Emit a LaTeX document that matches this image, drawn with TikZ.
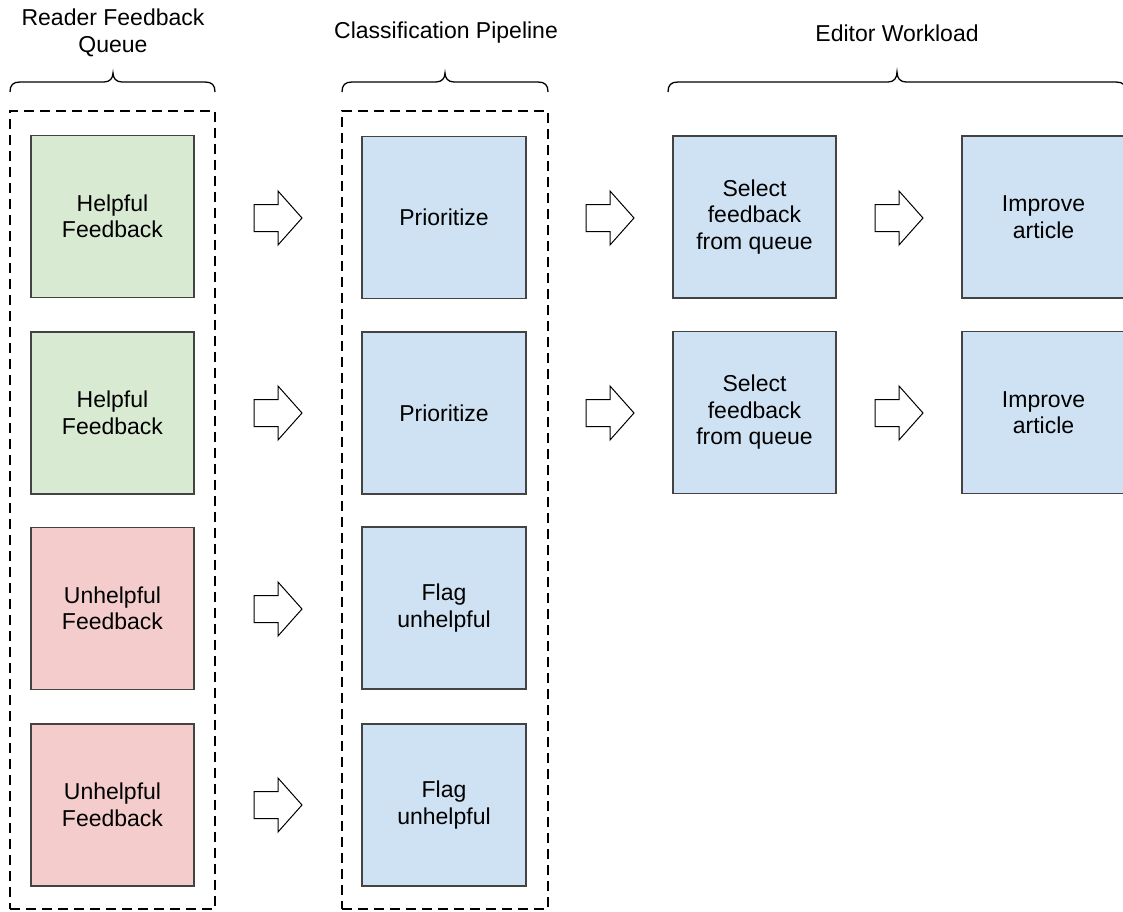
\documentclass[tikz,border=0pt]{standalone}
\usepackage{fontspec}
\setmainfont{Liberation Sans}
\definecolor{helpgreen}{HTML}{D9EAD3}
\definecolor{unhelpred}{HTML}{F4CCCC}
\definecolor{stepblue}{HTML}{CFE2F3}
\definecolor{boxline}{HTML}{434343}
\tikzset{
  card/.style={draw=boxline, line width=1.2pt, minimum width=163pt, minimum height=162pt, inner sep=0pt, align=center, font=\fontsize{23}{26.5}\selectfont},
  goodcard/.style={card, fill=helpgreen},
  badcard/.style={card, fill=unhelpred},
  bluecard/.style={card, fill=stepblue},
  container/.style={draw=black, line width=2.2pt, dash pattern=on 10pt off 6pt},
  title/.style={align=center, font=\fontsize{23}{26.5}\selectfont},
  bracelinestyle/.style={draw=black, line width=1.3pt},
  arrowline/.style={draw=black, line width=1pt, fill=white, line join=miter},
  pics/blockarrow/.style={code={
    \draw[arrowline] (-24,-13.5) -- (0,-13.5) -- (0,-27) -- (24,0) -- (0,27) -- (0,13.5) -- (-24,13.5) -- cycle;
  }}
}
\begin{document}
\begin{tikzpicture}[x=1pt,y=-1pt]
\useasboundingbox (0,0) rectangle (1123,911);
\fill[white] (0,0) rectangle (1123,911);

% titles
\node[title] (t1) at (113,33) {Reader Feedback\\Queue};
\node[title] (t2) at (446,33) {Classification Pipeline};
\node[title] (t3) at (897,33) {Editor Workload};

% braces
\draw[bracelinestyle] (10,92) .. controls (10,85) and (13,82) .. (20,82) -- (104,82) .. controls (110,82) and (113,78) .. (113,73) .. controls (113,78) and (116,82) .. (122,82) -- (205,82) .. controls (212,82) and (215,85) .. (215,92);
\draw[bracelinestyle] (342,92) .. controls (342,85) and (345,82) .. (352,82) -- (436,82) .. controls (442,82) and (445,78) .. (445,73) .. controls (445,78) and (448,82) .. (454,82) -- (538,82) .. controls (545,82) and (548,85) .. (548,92);
\draw[bracelinestyle] (668,92) .. controls (668,85) and (671,82) .. (678,82) -- (888,82) .. controls (894,82) and (897,78) .. (897,72) .. controls (897,78) and (900,82) .. (906,82) -- (1116,82) .. controls (1123,82) and (1126,85) .. (1126,92);

% containers
\node[container, minimum width=205pt, minimum height=798pt, inner sep=0pt] (queue) at (112.5,510) {};
\node[container, minimum width=206pt, minimum height=798pt, inner sep=0pt] (pipeline) at (445,510) {};

% column 1
\node[goodcard] (f1) at (112.5,216.5) {Helpful\\Feedback};
\node[goodcard] (f2) at (112.5,413) {Helpful\\Feedback};
\node[badcard] (f3) at (112.5,608.5) {Unhelpful\\Feedback};
\node[badcard] (f4) at (112.5,805) {Unhelpful\\Feedback};

% column 2
\node[bluecard, minimum width=164pt] (p1) at (444,217.5) {Prioritize};
\node[bluecard, minimum width=164pt] (p2) at (444,413) {Prioritize};
\node[bluecard, minimum width=164pt] (p3) at (444,608) {Flag\\unhelpful};
\node[bluecard, minimum width=164pt] (p4) at (444,805) {Flag\\unhelpful};

% column 3
\node[bluecard] (s1) at (754.5,217) {Select\\feedback\\from queue};
\node[bluecard] (s2) at (754.5,412.5) {Select\\feedback\\from queue};

% column 4
\node[bluecard] (i1) at (1043.5,217) {Improve\\article};
\node[bluecard] (i2) at (1043.5,412.5) {Improve\\article};

% block arrows
\pic (a11) at (278,218) {blockarrow};
\pic (a12) at (278,413) {blockarrow};
\pic (a13) at (278,609) {blockarrow};
\pic (a14) at (278,805) {blockarrow};
\pic (a21) at (610,218) {blockarrow};
\pic (a22) at (610,413) {blockarrow};
\pic (a31) at (899,218) {blockarrow};
\pic (a32) at (899,413) {blockarrow};
\end{tikzpicture}
\end{document}
